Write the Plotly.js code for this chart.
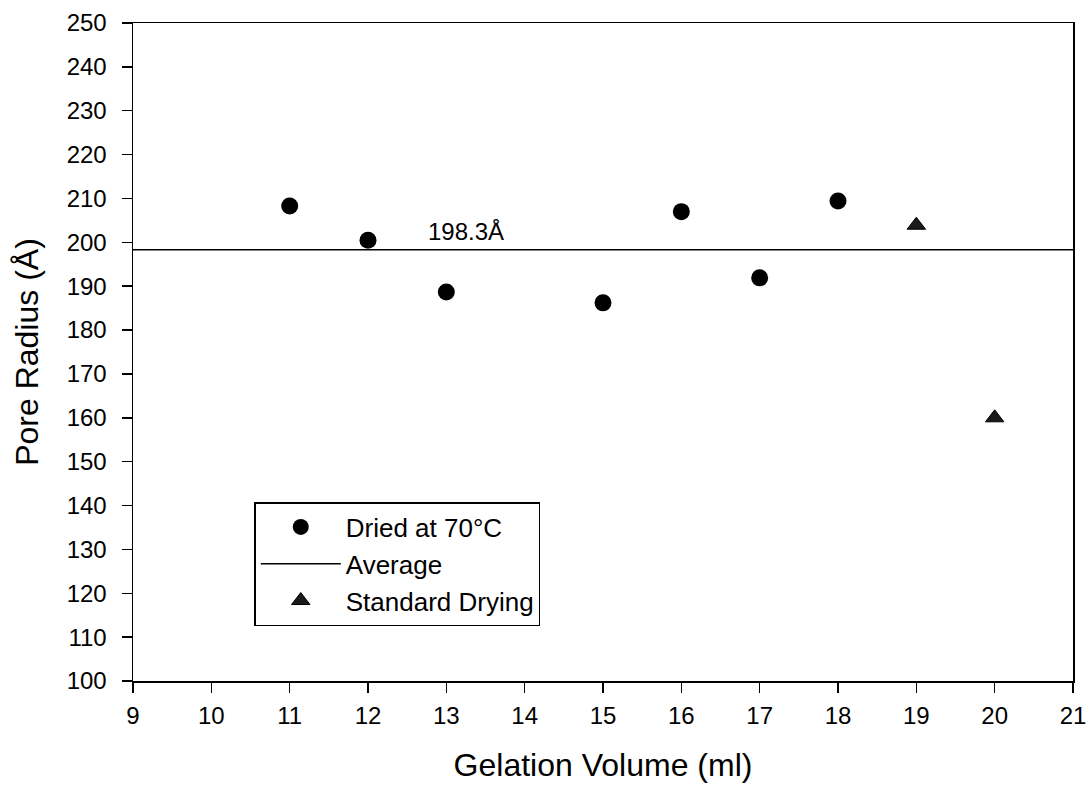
<!DOCTYPE html>
<html>
<head>
<meta charset="utf-8">
<script src="https://cdn.plot.ly/plotly-3.0.1.min.js"></script>
<style>html,body{margin:0;padding:0;background:#fff;}#chart{width:1089px;height:789px;}</style>
</head>
<body>
<div id="chart"></div>
<script>
// Data
const driedX = [11, 12, 13, 15, 16, 17, 18];
const driedY = [208.3, 200.5, 188.7, 186.2, 207.0, 191.9, 209.4];
const standardX = [19, 20];
const standardY = [203.9, 160.0];
const averageValue = 198.3;
const averageX = [9, 21];
const averageLabel = "198.3Å";
const xTicks = [9, 10, 11, 12, 13, 14, 15, 16, 17, 18, 19, 20, 21];
const yTicks = [100, 110, 120, 130, 140, 150, 160, 170, 180, 190, 200, 210, 220, 230, 240, 250];

const font = "Liberation Sans, Arial, sans-serif";

const traces = [
  {
    x: driedX, y: driedY, type: "scatter", mode: "markers", name: "Dried at 70°C",
    legendgroup: "a",
    marker: {symbol: "circle", size: 17, color: "#000"}
  },
  {
    x: averageX, y: averageX.map(() => averageValue), type: "scatter", mode: "lines", name: "Average",
    legendgroup: "b",
    line: {color: "#000", width: 1.5}
  },
  {
    x: standardX, y: standardY, type: "scatter", mode: "markers", name: "Standard Drying",
    legendgroup: "c",
    marker: {symbol: "triangle-up", size: 16, color: "#1a1a1a", line: {color: "#000", width: 1}}
  }
];

const layout = {
  width: 1089, height: 789,
  margin: {l: 133, r: 16, t: 23, b: 108},
  paper_bgcolor: "#fff", plot_bgcolor: "#fff",
  font: {family: font, color: "#000", size: 24},
  showlegend: true,
  legend: {
    x: 0.129, y: 0.272, xanchor: "left", yanchor: "top",
    bordercolor: "#000", borderwidth: 1.5, bgcolor: "#fff",
    font: {family: font, size: 26, color: "#000"},
    tracegroupgap: 0, itemwidth: 80
  },
  xaxis: {
    range: [9, 21], tickvals: xTicks, ticktext: xTicks.map(String),
    showgrid: false, zeroline: false,
    showline: true, linecolor: "#000", linewidth: 1.5, mirror: true,
    ticks: "outside", ticklen: 10, tickwidth: 1.5, tickcolor: "#000",
    ticklabelstandoff: 3,
    tickfont: {family: font, size: 24, color: "#000"},
    title: {text: "Gelation Volume (ml)", font: {family: font, size: 32, color: "#000"}, standoff: 25}
  },
  yaxis: {
    range: [100, 250], tickvals: yTicks, ticktext: yTicks.map(String),
    showgrid: false, zeroline: false,
    showline: true, linecolor: "#000", linewidth: 1.5, mirror: true,
    ticks: "outside", ticklen: 10, tickwidth: 1.5, tickcolor: "#000",
    ticklabelstandoff: 10,
    tickfont: {family: font, size: 24, color: "#000"},
    title: {text: "Pore Radius (Å)", font: {family: font, size: 32, color: "#000"}, standoff: 18}
  },
  annotations: [
    {x: 13.25, y: averageValue, xref: "x", yref: "y", text: averageLabel, showarrow: false,
     yanchor: "bottom", yshift: 3, font: {family: font, size: 24, color: "#000"}}
  ]
};

Plotly.newPlot("chart", traces, layout, {displayModeBar: false, staticPlot: true});
</script>
</body>
</html>
